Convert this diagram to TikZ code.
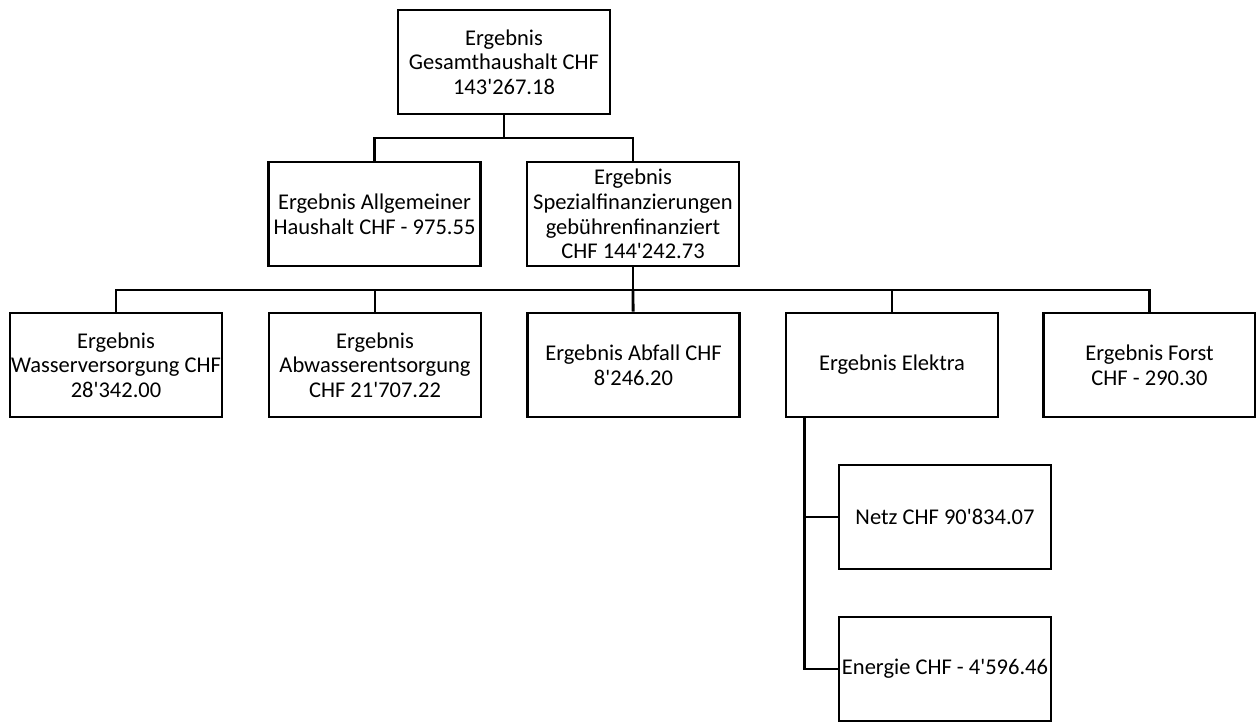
\documentclass[tikz,border=0pt]{standalone}
\usepackage{fontspec}
\setmainfont{Carlito}[Ligatures=TeXOff]
\usepackage{tikz}
\usepackage{xcolor}
\definecolor{orgLine}{HTML}{000000}
\definecolor{orgFill}{HTML}{FFFFFF}

\tikzset{
  orgbox/.style={rectangle, draw=orgLine, fill=orgFill, line width=2.8pt,
    minimum width=212pt, minimum height=104pt, inner sep=0pt, align=center,
    font=\fontsize{22.5}{24.7}\selectfont},
  orgline/.style={orgLine, line width=2.8pt}
}

\begin{document}
\begin{tikzpicture}[x=1pt, y=-1pt]
  \useasboundingbox (0,0) rectangle (1256,722);
  \clip (0,0) rectangle (1256,722);
  \node[orgbox] (gesamt) at (504,62) {Ergebnis\\Gesamthaushalt CHF\\143'267.18};
  \node[orgbox] (allg) at (374.5,214) {Ergebnis Allgemeiner\\Haushalt CHF - 975.55};
  \node[orgbox] (spez) at (633,214) {Ergebnis\\Spezialfinanzierungen\\gebührenfinanziert\\CHF 144'242.73};
  \node[orgbox] (wasser) at (116,365) {Ergebnis\\Wasserversorgung CHF\\28'342.00};
  \node[orgbox] (abwasser) at (375,365) {Ergebnis\\Abwasserentsorgung\\CHF 21'707.22};
  \node[orgbox] (abfall) at (633.5,365) {Ergebnis Abfall CHF\\8'246.20};
  \node[orgbox] (elektra) at (892,365) {Ergebnis Elektra};
  \node[orgbox] (forst) at (1149.5,365) {Ergebnis Forst\\CHF - 290.30};
  \node[orgbox] (netz) at (945,517) {Netz CHF 90'834.07};
  \node[orgbox] (energie) at (945,669) {Energie CHF - 4'596.46};
  \coordinate (j1) at (504,138);
  \coordinate (j2) at (633,290);
  \draw[orgline] (gesamt) -- (j1);
  \draw[orgline] (j1) -| (allg);
  \draw[orgline] (j1) -| (spez);
  \draw[orgline] (spez) -- (j2);
  \draw[orgline] (j2) -| (wasser);
  \draw[orgline] (j2) -| (abwasser);
  \draw[orgline] (j2) -- (abfall);
  \draw[orgline] (j2) -| (elektra);
  \draw[orgline] (j2) -| (forst);
  \draw[orgline] ([xshift=20pt]elektra.south west) |- (netz);
  \draw[orgline] ([xshift=20pt]elektra.south west) |- (energie);
\end{tikzpicture}
\end{document}
